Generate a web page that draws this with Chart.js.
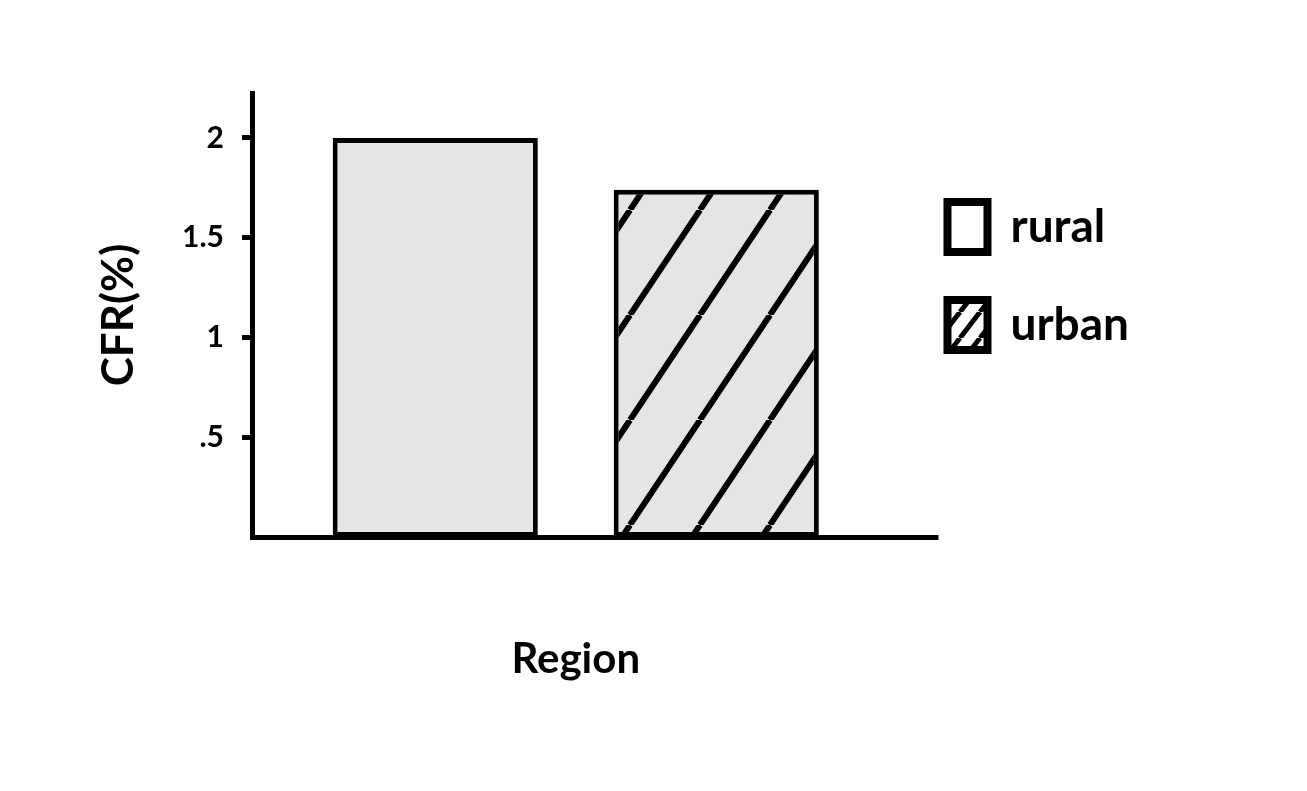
<!DOCTYPE html>
<html>
<head>
<meta charset="utf-8">
<script src="https://cdn.jsdelivr.net/npm/chart.js@4/dist/chart.umd.min.js"></script>
<style>
  html, body { margin: 0; padding: 0; background: #fff; }
  #wrap { width: 1307px; height: 791px; }
</style>
</head>
<body>
<div id="wrap"><canvas id="cfrChart"></canvas></div>
<script>
// datos
const categorias = ['Region']
const serieRural = [2.0]
const serieUrban = [1.74]
const nombresSeries = ['rural', 'urban']
const yTickValues = [0.5, 1, 1.5, 2]
const yTickLabels = ['.5', '1', '1.5', '2']

const fuente = 'Lato, "Noto Sans", sans-serif'

// patron rayado
function rayado(fondo, w, h, grosor) {
  const c = document.createElement('canvas')
  c.width = w
  c.height = h
  const g = c.getContext('2d')
  g.fillStyle = fondo
  g.fillRect(0, 0, w, h)
  g.strokeStyle = '#000'
  g.lineWidth = grosor
  g.beginPath()
  for (const dx of [-w, 0, w]) {
    g.moveTo(dx, h)
    g.lineTo(dx + w, 0)
  }
  g.stroke()
  return g.createPattern(c, 'repeat')
}

const patronBarra = rayado('#e5e5e5', 70, 105, 6)
const patronLeyenda = rayado('#ffffff', 20, 26, 5)

// extiende la linea del eje x mas alla del area
const ejeExtendido = {
  id: 'ejeExtendido',
  afterDraw(chart) {
    const {ctx, chartArea} = chart
    const y = Math.round(chartArea.bottom - 2.5) + 2.5
    ctx.save()
    ctx.strokeStyle = '#000'
    ctx.lineWidth = 5
    ctx.beginPath()
    ctx.moveTo(chartArea.right - 1, y)
    ctx.lineTo(chartArea.right + 39, y)
    ctx.stroke()
    ctx.restore()
  }
}

const data = {
  labels: categorias,
  datasets: [{
    label: nombresSeries[0],
    data: serieRural,
    backgroundColor: '#e5e5e5',
    borderColor: '#000',
    borderWidth: 5,
    borderSkipped: false
  }, {
    label: nombresSeries[1],
    data: serieUrban,
    backgroundColor: patronBarra,
    borderColor: '#000',
    borderWidth: 5,
    borderSkipped: false
  }]
}

const config = {
  type: 'bar',
  data: data,
  options: {
    responsive: true,
    maintainAspectRatio: false,
    animation: false,
    categoryPercentage: 0.868,
    barPercentage: 0.73,
    layout: {
      padding: { top: 93, left: 40, bottom: 60, right: 168 }
    },
    plugins: {
      tooltip: { enabled: false },
      legend: {
        position: 'right',
        align: 'start',
        title: {
          display: true,
          text: '',
          font: { size: 10 },
          padding: { top: 49, bottom: 0 }
        },
        labels: {
          boxWidth: 40,
          boxHeight: 50,
          padding: 48,
          color: '#000',
          font: { family: fuente, size: 46, weight: 'bold' },
          generateLabels(chart) {
            const items = Chart.defaults.plugins.legend.labels.generateLabels(chart)
            items.forEach((it, i) => {
              it.fillStyle = i === 0 ? '#ffffff' : patronLeyenda
              it.strokeStyle = '#000'
              it.lineWidth = 8
            })
            return items
          }
        }
      }
    },
    scales: {
      x: {
        grid: { display: false, drawTicks: false },
        ticks: { display: false },
        border: { display: true, color: '#000', width: 5 },
        title: {
          display: true,
          text: 'Region',
          color: '#000',
          font: { family: fuente, size: 42, weight: 'bold' },
          padding: { top: 0, bottom: 46 }
        },
        afterFit(s) { s.height = 194 }
      },
      y: {
        min: 0,
        max: 2.225,
        afterBuildTicks(s) { s.ticks = yTickValues.map(v => ({ value: v })) },
        ticks: {
          color: '#000',
          padding: 18,
          font: { family: fuente, size: 30, weight: 'bold' },
          callback: v => yTickLabels[yTickValues.indexOf(v)]
        },
        grid: { drawOnChartArea: false, color: '#000', lineWidth: 5, tickLength: 10 },
        border: { display: true, color: '#000', width: 5 },
        title: {
          display: true,
          text: 'CFR(%)',
          color: '#000',
          font: { family: fuente, size: 44, weight: 'bold' },
          padding: { top: 52, bottom: 0 }
        },
        afterFit(s) { s.width = 212 }
      }
    }
  },
  plugins: [ejeExtendido]
}

const cfrChart = new Chart(
  document.querySelector('#cfrChart'),
  config
)
</script>
</body>
</html>
